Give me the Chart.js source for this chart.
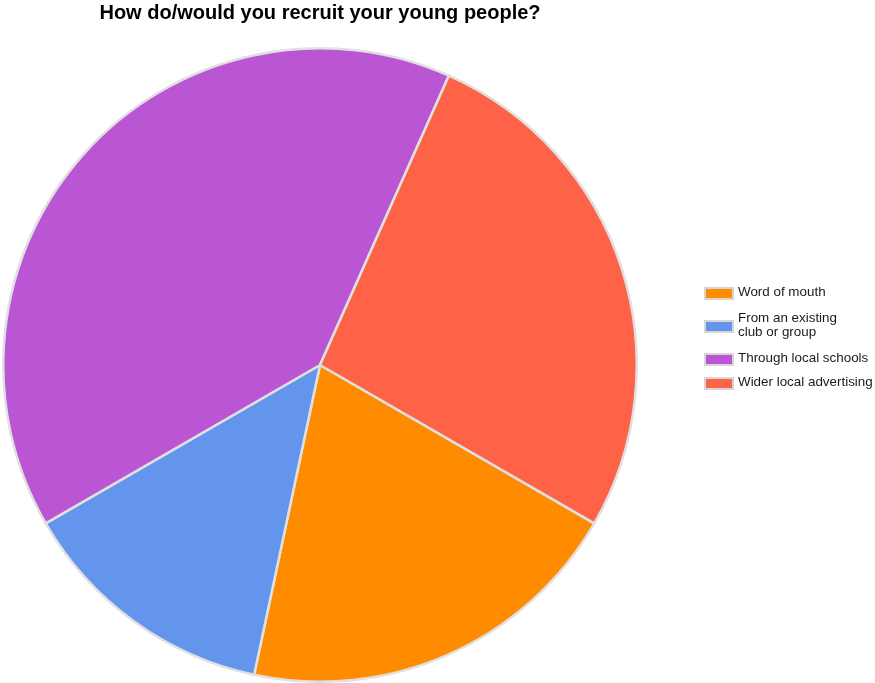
<!DOCTYPE html>
<html>
<head>
<meta charset="utf-8">
<script src="https://cdn.jsdelivr.net/npm/chart.js@4"></script>
<style>
  html, body { margin: 0; padding: 0; background: #fff; }
  #wrap { position: relative; width: 875px; height: 683px; }
  #legend { position: absolute; left: 704px; top: 0; font-family: Arial, "Liberation Sans", sans-serif; font-size: 13.4px; color: #1a1a1a; }
  .item { position: absolute; left: 0; white-space: nowrap; }
  .box { position: absolute; left: 0; width: 26px; height: 9px; border: 2px solid #d6d6d6; }
  .txt { position: absolute; left: 34px; line-height: 14px; }
</style>
</head>
<body>
<div id="wrap">
  <canvas id="pie" width="875" height="683"></canvas>
  <div id="legend"></div>
</div>
<script>
// Datos
const labels = ['Word of mouth', 'From an existing club or group', 'Through local schools', 'Wider local advertising'];
const legendLines = [['Word of mouth'], ['From an existing', 'club or group'], ['Through local schools'], ['Wider local advertising']];
const counts = [3, 2, 6, 4];
const colors = ['#FF8C00', '#6495ED', '#BA55D3', '#FF6347'];
const legendY = [293, 326, 359, 383]; // centro de cada casilla

const ctx = document.getElementById('pie').getContext('2d');

new Chart(ctx, {
  type: 'pie',
  data: {
    labels: labels,
    datasets: [{
      data: counts,
      backgroundColor: colors,
      borderColor: '#e0e0e0',
      borderWidth: 2.5
    }]
  },
  options: {
    responsive: false,
    animation: false,
    rotation: 120,
    layout: { padding: { left: 0, right: 235, top: 0, bottom: 0 } },
    plugins: {
      legend: { display: false },
      tooltip: { enabled: false },
      title: {
        display: true,
        text: 'How do/would you recruit your young people?',
        color: '#000',
        font: { family: 'Arial, "Liberation Sans", sans-serif', size: 20, weight: 'bold' },
        padding: { top: 1, bottom: 22 }
      }
    }
  }
});

// Leyenda a la derecha
const legend = document.getElementById('legend');
legendLines.forEach((lines, i) => {
  const item = document.createElement('div');
  item.className = 'item';
  item.style.top = legendY[i] + 'px';
  const box = document.createElement('div');
  box.className = 'box';
  box.style.top = '-6px';
  box.style.background = colors[i];
  const txt = document.createElement('div');
  txt.className = 'txt';
  txt.style.top = (-lines.length * 7 - 1) + 'px';
  txt.innerHTML = lines.join('<br>');
  item.appendChild(box);
  item.appendChild(txt);
  legend.appendChild(item);
});
</script>
</body>
</html>
